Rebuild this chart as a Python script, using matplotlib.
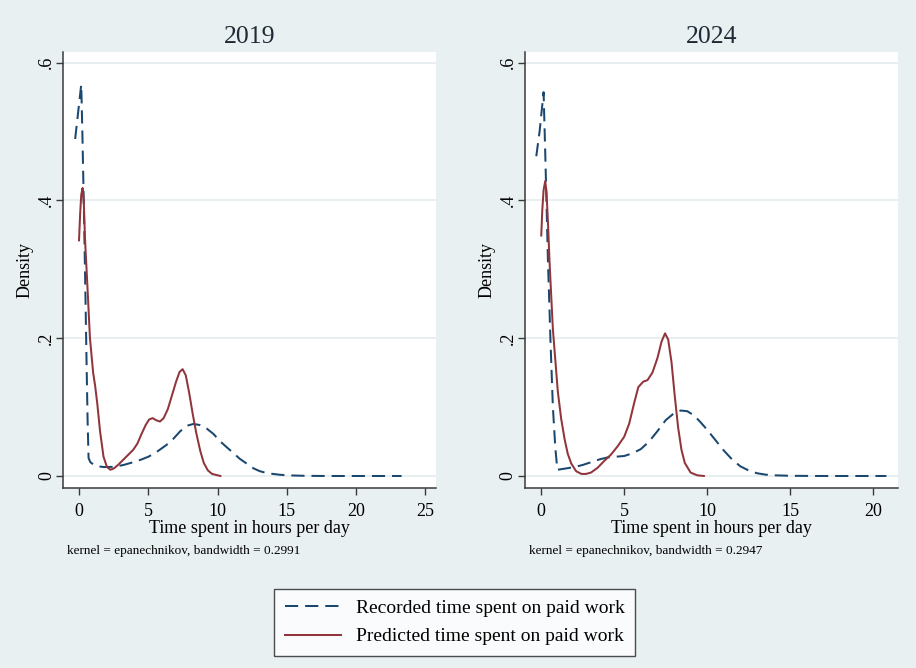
import matplotlib
matplotlib.use("Agg")
import matplotlib.pyplot as plt
from matplotlib.lines import Line2D

plt.rcParams["font.family"] = ["Liberation Serif", "DejaVu Serif"]
plt.rcParams["lines.scale_dashes"] = False

BG = "#E9F0F2"
NAVY = "#1A476F"
MAROON = "#90353B"
GRID = "#E5EEF0"
AXIS = "#3A3A3A"

# kernel density estimates, 2019
rec19_x = [-0.3, -0.1, 0.14, 0.22, 0.32, 0.42, 0.52, 0.6, 0.67, 0.8, 1.0, 1.4, 1.75,
           2.2, 2.7, 3.2, 3.9, 4.5, 5.0, 5.6, 6.3, 6.8, 7.3, 7.8, 8.25, 8.7, 9.2,
           9.7, 10.2, 10.7, 11.1, 11.6, 12.1, 12.6, 13.05, 13.5, 14.0, 14.5, 15.0,
           16.0, 17.0, 18.0, 20.0, 23.3]
rec19_y = [0.489, 0.525, 0.568, 0.50, 0.40, 0.29, 0.17, 0.08, 0.026, 0.020, 0.017,
           0.014, 0.013, 0.013, 0.014, 0.016, 0.020, 0.024, 0.028, 0.035, 0.045,
           0.054, 0.065, 0.073, 0.0755, 0.074, 0.069, 0.061, 0.050, 0.041, 0.034,
           0.025, 0.018, 0.011, 0.007, 0.0045, 0.003, 0.0018, 0.001, 0.0004,
           0.0001, 0.0, 0.0, 0.0]
pred19_x = [-0.02, 0.06, 0.14, 0.24, 0.33, 0.41, 0.6, 0.77, 1.0, 1.15, 1.3, 1.5,
            1.75, 2.0, 2.25, 2.5, 2.8, 3.1, 3.5, 3.9, 4.2, 4.5, 4.8, 5.05, 5.3,
            5.55, 5.83, 6.1, 6.4, 6.7, 7.0, 7.25, 7.47, 7.7, 7.95, 8.2, 8.45, 8.75,
            9.0, 9.3, 9.6, 10.2]
pred19_y = [0.342, 0.38, 0.408, 0.418, 0.395, 0.345, 0.27, 0.20, 0.15, 0.13,
            0.105, 0.065, 0.028, 0.013, 0.009, 0.011, 0.016, 0.022, 0.030, 0.038,
            0.047, 0.061, 0.074, 0.082, 0.084, 0.081, 0.079, 0.084, 0.097, 0.117,
            0.137, 0.151, 0.155, 0.146, 0.120, 0.090, 0.063, 0.036, 0.019, 0.008,
            0.003, 0.0]

# kernel density estimates, 2024
rec24_x = [-0.3, -0.1, 0.14, 0.25, 0.4, 0.55, 0.7, 0.85, 0.97, 1.5, 2.0, 2.5, 3.0,
           3.5, 4.0, 4.5, 5.0, 5.5, 6.0, 6.5, 7.0, 7.5, 8.0, 8.4, 8.8, 9.2, 9.6,
           10.0, 10.5, 11.0, 11.5, 12.0, 12.5, 13.0, 13.5, 14.0, 15.0, 16.0, 17.0,
           20.8]
rec24_y = [0.464, 0.50, 0.557, 0.46, 0.315, 0.20, 0.10, 0.04, 0.009, 0.011, 0.013,
           0.016, 0.020, 0.024, 0.027, 0.028, 0.029, 0.033, 0.039, 0.050, 0.065,
           0.081, 0.091, 0.095, 0.094, 0.088, 0.078, 0.067, 0.052, 0.037, 0.024,
           0.014, 0.008, 0.004, 0.002, 0.001, 0.0003, 0.0001, 0.0, 0.0]
pred24_x = [0.0, 0.06, 0.14, 0.24, 0.32, 0.4, 0.5, 0.7, 1.0, 1.2, 1.41, 1.6, 1.81,
            2.1, 2.42, 2.7, 3.0, 3.4, 3.8, 4.2, 4.6, 5.0, 5.3, 5.6, 5.85, 6.15,
            6.4, 6.7, 7.0, 7.25, 7.46, 7.65, 7.85, 8.05, 8.25, 8.45, 8.65, 9.0,
            9.4, 9.8]
pred24_y = [0.349, 0.385, 0.415, 0.428, 0.41, 0.37, 0.31, 0.213, 0.122, 0.083,
            0.053, 0.032, 0.018, 0.007, 0.003, 0.003, 0.005, 0.012, 0.022, 0.031,
            0.043, 0.057, 0.076, 0.106, 0.129, 0.137, 0.139, 0.150, 0.171, 0.195,
            0.207, 0.198, 0.165, 0.115, 0.070, 0.038, 0.019, 0.005, 0.001, 0.0]

panels = [
    ("2019", rec19_x, rec19_y, pred19_x, pred19_y, [0, 5, 10, 15, 20, 25],
     (-1.157, 25.79), "0.2991"),
    ("2024", rec24_x, rec24_y, pred24_x, pred24_y, [0, 5, 10, 15, 20],
     (-0.98, 21.5), "0.2947"),
]
y_ticks = [0, 0.2, 0.4, 0.6]
y_labels = ["0", ".2", ".4", ".6"]

W, H = 916, 668
fig = plt.figure(figsize=(W / 100, H / 100), dpi=100)
fig.patch.set_facecolor(BG)

ax_boxes = [(63.3, 436.0), (525.0, 898.0)]
top_px, bottom_px = 51.5, 487.7
DASH = (9.5, 5.0)

for (title, rx, ry, px, py, xticks, xlim, bw), (x0, x1) in zip(panels, ax_boxes):
    ax = fig.add_axes([x0 / W, 1 - bottom_px / H, (x1 - x0) / W,
                       (bottom_px - top_px) / H])
    ax.set_facecolor("white")
    ax.plot(rx, ry, color=NAVY, lw=1.45, dashes=DASH, zorder=3)
    ax.plot(px, py, color=MAROON, lw=1.45, zorder=3)

    ax.set_xlim(*xlim)
    ax.set_ylim(-0.017, 0.616)
    ax.set_xticks(xticks)
    ax.set_yticks(y_ticks)
    ax.set_yticklabels(y_labels, rotation=90, va="center")
    ax.grid(axis="y", color=GRID, lw=1.3, zorder=0)
    ax.set_axisbelow(True)

    for side in ("top", "right"):
        ax.spines[side].set_visible(False)
    for side in ("left", "bottom"):
        ax.spines[side].set_color(AXIS)
        ax.spines[side].set_linewidth(1.1)
    ax.tick_params(length=5, width=1.0, color=AXIS, labelsize=13,
                   labelcolor="black")
    ax.tick_params(axis="x", pad=6)
    ax.tick_params(axis="y", pad=1)

    ax.set_title(title, fontsize=18.5, color="#1F2A36", pad=6)
    ax.set_xlabel("Time spent in hours per day", fontsize=13, labelpad=0)
    ax.set_ylabel("Density", fontsize=13, labelpad=3)

    fig.text((x0 + 4) / W, 1 - 551 / H,
             f"kernel = epanechnikov, bandwidth = {bw}",
             fontsize=9.5, va="center", ha="left")

handles = [
    Line2D([], [], color=NAVY, lw=1.45, dashes=DASH),
    Line2D([], [], color=MAROON, lw=1.45),
]
leg = fig.legend(handles,
                 ["Recorded time spent on paid work",
                  "Predicted time spent on paid work"],
                 loc="center", bbox_to_anchor=(454.5 / W, 1 - 622.5 / H),
                 fontsize=14, frameon=True, fancybox=False, handlelength=2.9,
                 handletextpad=0.75, borderpad=0.55, labelspacing=0.55,
                 borderaxespad=0)
leg.get_frame().set_edgecolor("#222222")
leg.get_frame().set_linewidth(1.0)

fig.savefig("out.png", dpi=100, facecolor=BG)
